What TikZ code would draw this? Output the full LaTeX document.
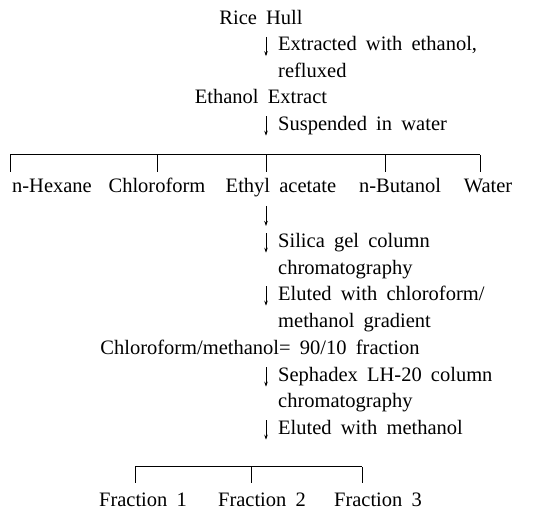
\documentclass[tikz,border=0pt]{standalone}
\usepackage{fontspec}
\setmainfont{Liberation Serif}
\usetikzlibrary{arrows.meta}

\newcommand\flowfont{\fontsize{20.5}{24}\selectfont\spaceskip=0.45em plus 0.1em minus 0.1em\relax}

\tikzset{
  stage/.style={inner sep=0pt, text height=14pt, text depth=5pt},
  stepnote/.style={stage, anchor=west},
  flowarrow/.style={-{Stealth[length=5pt,width=3.5pt]}, line width=0.8pt},
  branch/.style={line width=1pt}
}

\begin{document}
\begin{tikzpicture}[x=1pt,y=-1pt,font=\flowfont]
\useasboundingbox (0,0) rectangle (547,513);

% main line
\node[stage] (hull) at (261,20) {Rice Hull};
\node[stepnote] (ex1) at (278,46.5) {Extracted with ethanol,};
\node[stepnote] (ex2) at (278,73) {refluxed};
\node[stage] (extract) at (261,99.5) {Ethanol Extract};
\node[stepnote] (su1) at (278,126) {Suspended in water};

% solvent partition
\coordinate (barl) at (10,155);
\coordinate (barr) at (480,155);
\draw[branch] (barl) -- (barr);
\foreach \x in {10,157,266,385,480} {
\draw[branch] (\x,155) -- (\x,172);
}
\node[stage] (hexane) at (52,188) {n-Hexane};
\node[stage] (chloro) at (157,188) {Chloroform};
\node[stage] (ethyl) at (281,188) {Ethyl acetate};
\node[stage] (butanol) at (400,188) {n-Butanol};
\node[stage] (water) at (488,188) {Water};

% ethyl acetate layer
\coordinate (ea1) at (266,206);
\coordinate (ea2) at (266,226);
\draw[flowarrow] (ea1) -- (ea2);
\node[stepnote] (si1) at (278,243) {Silica gel column};
\node[stepnote] (si2) at (278,270) {chromatography};
\node[stepnote] (el1) at (278,296) {Eluted with chloroform/};
\node[stepnote] (el2) at (278,323) {methanol gradient};
\node[stage] (cmfrac) at (260,350) {Chloroform/methanol= 90/10 fraction};
\node[stepnote] (se1) at (278,377) {Sephadex LH-20 column};
\node[stepnote] (se2) at (278,403) {chromatography};
\node[stepnote] (me1) at (278,430) {Eluted with methanol};

\foreach \n in {ex1,su1,si1,el1,se1,me1} {
\draw[flowarrow] ([xshift=-12pt]\n.north west) -- ([xshift=-12pt]\n.south west);
}

% fractions
\coordinate (fbarl) at (135,467);
\coordinate (fbarr) at (362,467);
\draw[branch] (fbarl) -- (fbarr);
\foreach \x in {135,251,362} {
\draw[branch] (\x,467) -- (\x,483);
}
\node[stage] (frac1) at (143,502) {Fraction 1};
\node[stage] (frac2) at (262,502) {Fraction 2};
\node[stage] (frac3) at (378,502) {Fraction 3};
\end{tikzpicture}
\end{document}
